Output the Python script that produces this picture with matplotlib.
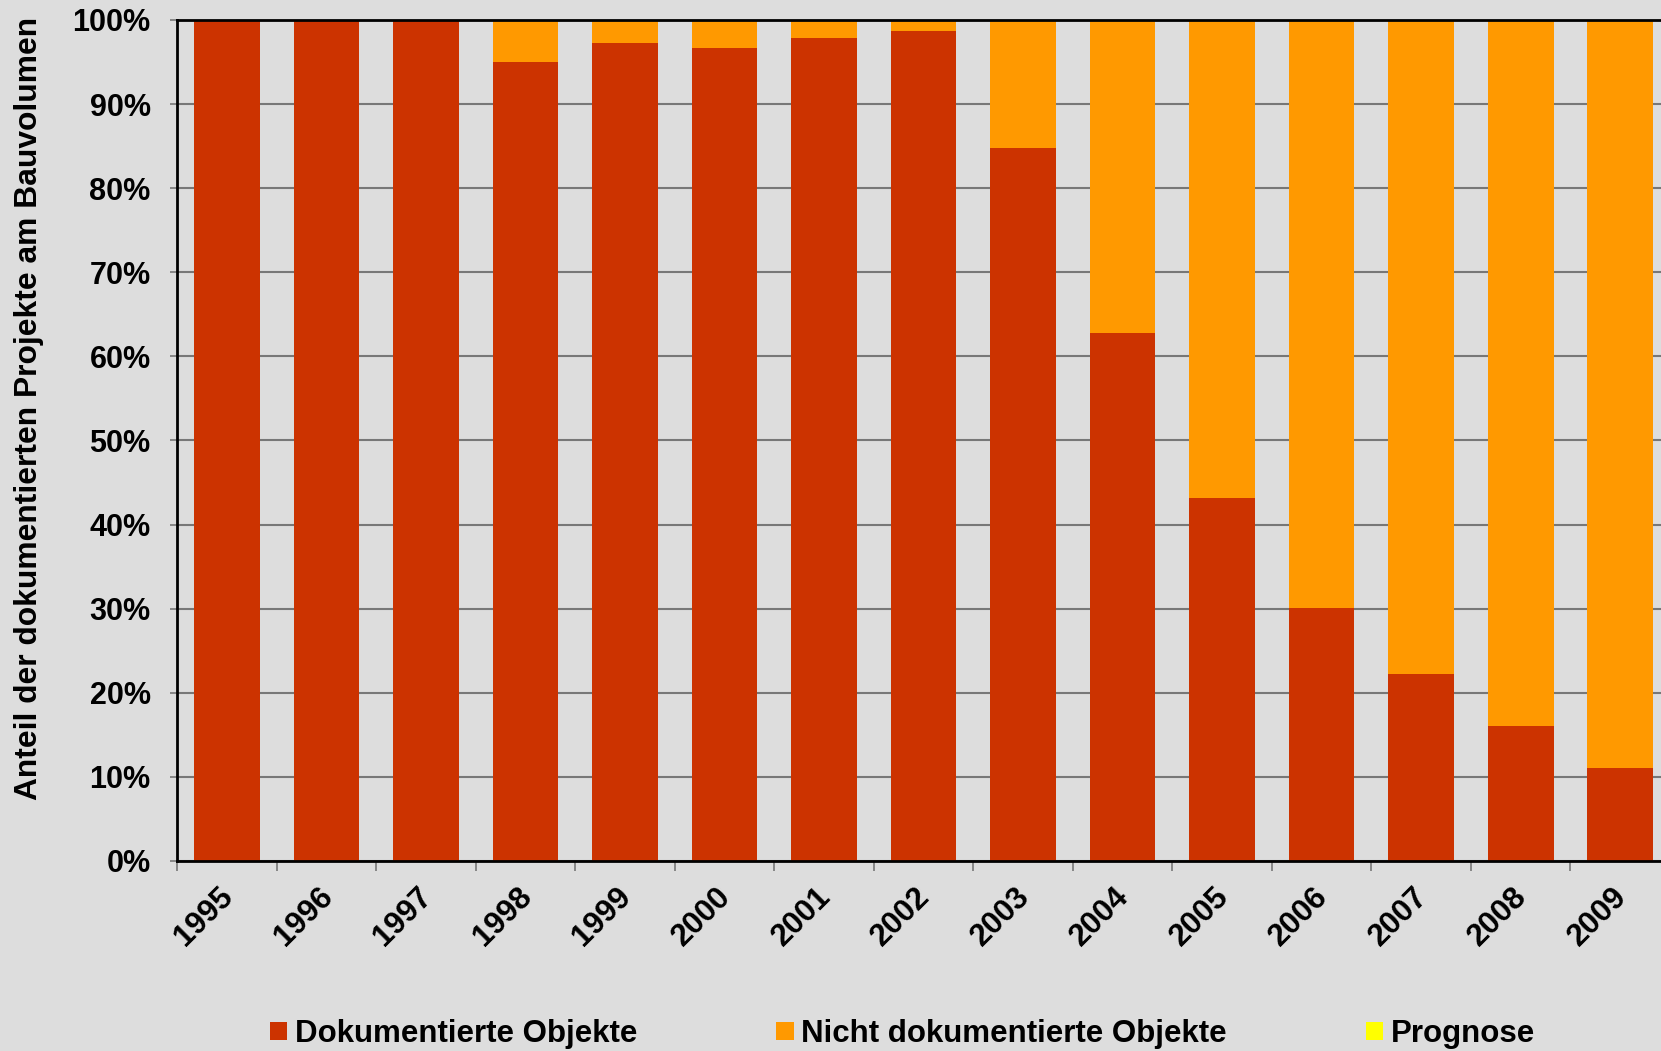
import matplotlib.pyplot as plt
import matplotlib.transforms as mtransforms
from matplotlib.ticker import FixedLocator, FuncFormatter

plt.rcParams["font.family"] = ["Liberation Sans", "DejaVu Sans"]
plt.rcParams["font.weight"] = "bold"

# data (percent of construction volume)
years = ["1995", "1996", "1997", "1998", "1999", "2000", "2001", "2002",
         "2003", "2004", "2005", "2006", "2007", "2008", "2009"]
documented = [100.0, 100.0, 100.0, 95.0, 97.3, 96.7, 97.8, 98.7,
              84.8, 62.8, 43.2, 30.1, 22.2, 16.1, 11.1]
not_documented = [0.0, 0.0, 0.0, 5.0, 2.7, 3.3, 2.2, 1.3,
                  15.2, 37.2, 56.8, 69.9, 77.8, 83.9, 88.9]
forecast = [0.0] * 15

BG = "#DDDDDD"
RED = "#CC3300"
ORANGE = "#FF9900"
YELLOW = "#FFFF00"

fig = plt.figure(figsize=(16.61, 10.51), dpi=100, facecolor=BG)
ax = fig.add_axes([0.1066, 0.1808, 0.8988, 0.8002])
ax.set_facecolor(BG)

x = list(range(len(years)))
ax.bar(x, documented, width=0.66, color=RED, label="Dokumentierte Objekte", zorder=3)
ax.bar(x, not_documented, width=0.66, bottom=documented, color=ORANGE,
       label="Nicht dokumentierte Objekte", zorder=3)
bottom2 = [a + b for a, b in zip(documented, not_documented)]
ax.bar(x, forecast, width=0.66, bottom=bottom2, color=YELLOW, linewidth=0,
       label="Prognose", zorder=3)

ax.set_xlim(-0.5, len(years) - 0.5)
ax.set_ylim(0, 100)

# y axis
ax.set_yticks(range(0, 101, 10))
ax.yaxis.set_major_formatter(FuncFormatter(lambda v, p: f"{int(v)}%"))
ax.tick_params(axis="y", length=5, width=1.2, color="#777777", pad=14,
               labelsize=22)
ax.grid(axis="y", color="#777777", linewidth=1.5, zorder=1)

# x axis: labels at bar centres, tick marks at category boundaries
ax.set_xticks(x)
ax.set_xticklabels(years, rotation=45, ha="right", fontsize=22.5)
ax.tick_params(axis="x", which="major", length=0, pad=15)
ax.xaxis.set_minor_locator(FixedLocator([i - 0.5 for i in range(len(years) + 1)]))
ax.tick_params(axis="x", which="minor", length=7, width=1.2, color="#777777")
offset = mtransforms.ScaledTranslation(9 / 72, 0, fig.dpi_scale_trans)
for lab in ax.get_xticklabels():
    lab.set_transform(lab.get_transform() + offset)

for side in ["left", "bottom", "top"]:
    ax.spines[side].set_linewidth(2)
    ax.spines[side].set_color("black")
    ax.spines[side].set_zorder(4)
ax.spines["right"].set_visible(False)

fig.text(0.0175, 0.611, "Anteil der dokumentierten Projekte am Bauvolumen",
         rotation=90, ha="center", va="center", fontsize=22.9, fontweight="bold")

fig.legend(loc="center left", bbox_to_anchor=(270 / 1661, 1 - 1034 / 1051),
           ncol=3, frameon=False, fontsize=22.5, borderpad=0, borderaxespad=0,
           handlelength=0.55, handleheight=0.55, handletextpad=0.25,
           columnspacing=4.45)

fig.savefig("out.png", dpi=100, facecolor=BG)
